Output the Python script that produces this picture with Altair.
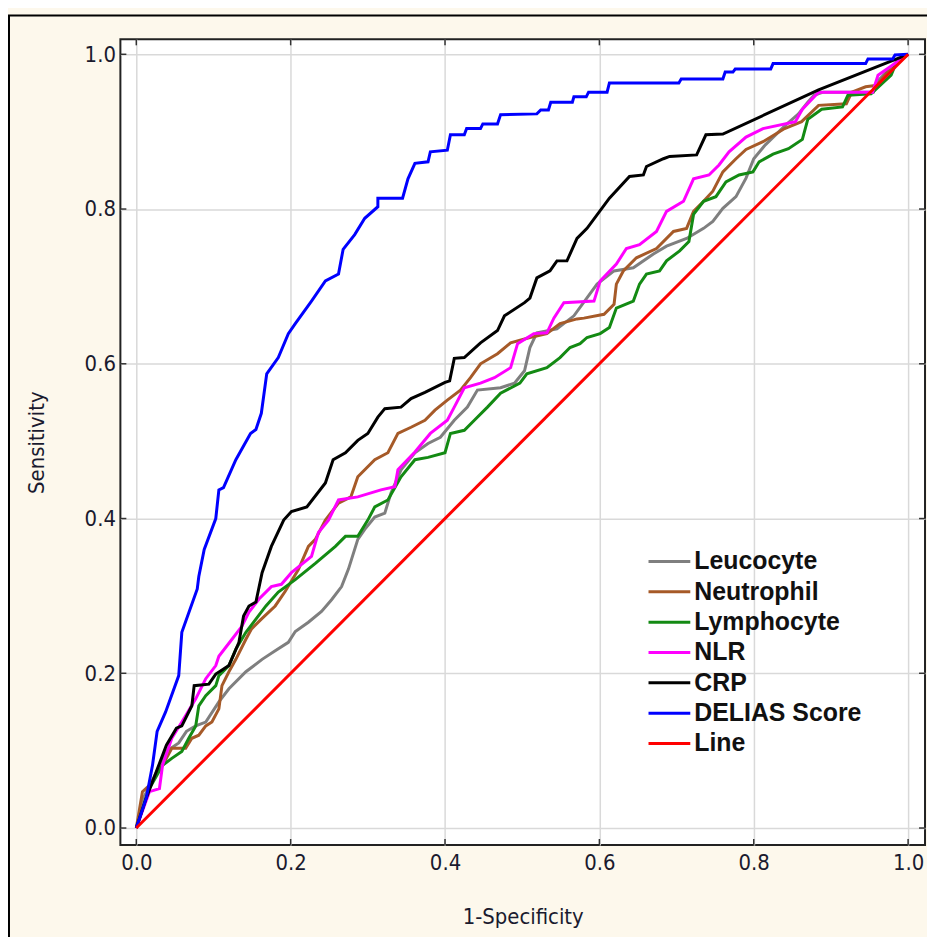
import altair as alt
import pandas as pd

series_names = ["Leucocyte", "Neutrophil", "Lymphocyte", "NLR", "CRP", "DELIAS Score", "Line"]
series_colors = ["#7f7f7f", "#a65a28", "#138a13", "#ff00ff", "#000000", "#0000ff", "#ff0000"]

tick_values = [0.0, 0.2, 0.4, 0.6, 0.8, 1.0]

leu_x = [0, 0.01, 0.025, 0.04, 0.055, 0.065, 0.077, 0.09, 0.107, 0.12,
         0.142, 0.163, 0.18, 0.197, 0.206, 0.223, 0.24, 0.253, 0.266, 0.275,
         0.287, 0.296, 0.309, 0.322, 0.33, 0.343, 0.361, 0.378, 0.394, 0.412,
         0.429, 0.442, 0.472, 0.49, 0.503, 0.51, 0.519, 0.545, 0.567, 0.597,
         0.619, 0.644, 0.67, 0.687, 0.713, 0.735, 0.747, 0.76, 0.777, 0.79,
         0.8, 0.815, 0.842, 0.858, 0.87, 0.878, 0.89, 0.955, 0.963, 0.985, 1]
leu_y = [0, 0.04, 0.07, 0.1, 0.11, 0.125, 0.132, 0.137, 0.163, 0.18,
         0.202, 0.218, 0.229, 0.24, 0.254, 0.266, 0.28, 0.295, 0.312, 0.335,
         0.373, 0.386, 0.402, 0.407, 0.433, 0.463, 0.485, 0.497, 0.505, 0.527,
         0.544, 0.566, 0.569, 0.575, 0.591, 0.621, 0.64, 0.645, 0.662, 0.703,
         0.72, 0.724, 0.742, 0.752, 0.762, 0.775, 0.784, 0.801, 0.816, 0.84,
         0.865, 0.883, 0.909, 0.923, 0.938, 0.947, 0.951, 0.951, 0.968, 0.99, 1]

neu_x = [0, 0.008, 0.017, 0.034, 0.046, 0.064, 0.072, 0.081, 0.09, 0.098,
         0.107, 0.111, 0.12, 0.129, 0.142, 0.149, 0.162, 0.18, 0.193, 0.21,
         0.223, 0.232, 0.245, 0.262, 0.278, 0.287, 0.309, 0.326, 0.339, 0.356,
         0.374, 0.387, 0.403, 0.42, 0.433, 0.446, 0.468, 0.485, 0.51, 0.532,
         0.549, 0.571, 0.58, 0.606, 0.619, 0.622, 0.631, 0.648, 0.674, 0.696,
         0.713, 0.722, 0.735, 0.747, 0.76, 0.777, 0.79, 0.812, 0.84, 0.862,
         0.884, 0.92, 0.927, 0.945, 0.96, 0.973, 1]
neu_y = [0, 0.047, 0.055, 0.081, 0.103, 0.103, 0.116, 0.12, 0.132, 0.137,
         0.154, 0.184, 0.202, 0.218, 0.244, 0.257, 0.27, 0.287, 0.306, 0.334,
         0.364, 0.373, 0.398, 0.42, 0.428, 0.454, 0.476, 0.485, 0.51, 0.518,
         0.527, 0.54, 0.553, 0.566, 0.582, 0.6, 0.613, 0.627, 0.634, 0.639,
         0.652, 0.658, 0.659, 0.664, 0.677, 0.703, 0.72, 0.737, 0.749, 0.771,
         0.775, 0.797, 0.81, 0.823, 0.848, 0.865, 0.877, 0.887, 0.904, 0.913,
         0.934, 0.936, 0.951, 0.958, 0.96, 0.977, 1]

lym_x = [0, 0.017, 0.034, 0.046, 0.059, 0.068, 0.077, 0.081, 0.09, 0.103,
         0.107, 0.12, 0.129, 0.142, 0.155, 0.168, 0.184, 0.206, 0.232, 0.258,
         0.271, 0.287, 0.3, 0.309, 0.326, 0.343, 0.361, 0.378, 0.4, 0.407,
         0.425, 0.438, 0.455, 0.472, 0.497, 0.506, 0.532, 0.549, 0.562, 0.575,
         0.584, 0.601, 0.613, 0.622, 0.644, 0.652, 0.661, 0.678, 0.687, 0.704,
         0.716, 0.722, 0.735, 0.751, 0.764, 0.781, 0.799, 0.807, 0.825, 0.845,
         0.863, 0.87, 0.888, 0.915, 0.922, 0.952, 0.978, 0.985, 1]
lym_y = [0, 0.051, 0.081, 0.09, 0.099, 0.116, 0.132, 0.158, 0.171, 0.184,
         0.197, 0.21, 0.231, 0.253, 0.27, 0.287, 0.305, 0.321, 0.342, 0.364,
         0.377, 0.377, 0.398, 0.415, 0.424, 0.454, 0.476, 0.479, 0.485, 0.51,
         0.514, 0.527, 0.544, 0.562, 0.575, 0.587, 0.595, 0.608, 0.621, 0.626,
         0.634, 0.639, 0.647, 0.672, 0.681, 0.703, 0.716, 0.72, 0.733, 0.746,
         0.758, 0.793, 0.81, 0.816, 0.835, 0.844, 0.848, 0.861, 0.871, 0.878,
         0.89, 0.916, 0.929, 0.932, 0.947, 0.949, 0.973, 0.99, 1]

nlr_x = [0, 0.017, 0.03, 0.034, 0.046, 0.059, 0.077, 0.09, 0.103, 0.107,
         0.124, 0.137, 0.146, 0.159, 0.175, 0.188, 0.201, 0.227, 0.236, 0.249,
         0.262, 0.287, 0.317, 0.335, 0.339, 0.361, 0.381, 0.403, 0.412, 0.425,
         0.446, 0.464, 0.485, 0.494, 0.515, 0.532, 0.541, 0.554, 0.593, 0.601,
         0.622, 0.635, 0.652, 0.674, 0.687, 0.709, 0.722, 0.742, 0.755, 0.768,
         0.79, 0.812, 0.854, 0.863, 0.884, 0.954, 0.961, 1]
nlr_y = [0, 0.047, 0.051, 0.081, 0.116, 0.137, 0.167, 0.193, 0.21, 0.222,
         0.244, 0.261, 0.279, 0.296, 0.312, 0.315, 0.33, 0.351, 0.382, 0.398,
         0.424, 0.428, 0.437, 0.441, 0.463, 0.486, 0.51, 0.527, 0.544, 0.569,
         0.575, 0.582, 0.595, 0.626, 0.639, 0.64, 0.659, 0.679, 0.681, 0.707,
         0.729, 0.749, 0.754, 0.771, 0.797, 0.81, 0.839, 0.844, 0.857, 0.874,
         0.893, 0.904, 0.913, 0.929, 0.951, 0.951, 0.973, 1]

crp_x = [0, 0.013, 0.026, 0.039, 0.052, 0.059, 0.072, 0.075, 0.094, 0.103,
         0.12, 0.133, 0.139, 0.146, 0.155, 0.163, 0.175, 0.191, 0.201, 0.221,
         0.245, 0.255, 0.271, 0.287, 0.3, 0.313, 0.322, 0.343, 0.356, 0.374,
         0.4, 0.406, 0.412, 0.425, 0.446, 0.468, 0.477, 0.503, 0.51, 0.519,
         0.536, 0.545, 0.558, 0.571, 0.584, 0.613, 0.639, 0.657, 0.661, 0.683,
         0.691, 0.726, 0.738, 0.76, 0.884, 1]
crp_y = [0, 0.039, 0.073, 0.107, 0.129, 0.132, 0.158, 0.184, 0.186, 0.199,
         0.21, 0.24, 0.274, 0.287, 0.292, 0.33, 0.364, 0.398, 0.409, 0.415,
         0.446, 0.476, 0.485, 0.501, 0.51, 0.531, 0.542, 0.544, 0.555, 0.563,
         0.576, 0.578, 0.607, 0.608, 0.627, 0.643, 0.662, 0.679, 0.685, 0.711,
         0.72, 0.733, 0.733, 0.762, 0.775, 0.814, 0.842, 0.844, 0.855, 0.865,
         0.868, 0.87, 0.896, 0.897, 0.954, 1]

delias_x = [0, 0.013, 0.021, 0.027, 0.038, 0.055, 0.059, 0.079, 0.081, 0.088,
            0.103, 0.107, 0.113, 0.129, 0.148, 0.155, 0.162, 0.169, 0.184, 0.197,
            0.206, 0.227, 0.245, 0.262, 0.268, 0.283, 0.296, 0.313, 0.313, 0.345,
            0.352, 0.361, 0.378, 0.381, 0.403, 0.407, 0.425, 0.428, 0.446, 0.449,
            0.468, 0.472, 0.519, 0.524, 0.534, 0.537, 0.565, 0.567, 0.583, 0.586,
            0.61, 0.613, 0.703, 0.706, 0.76, 0.763, 0.773, 0.776, 0.822, 0.825,
            0.945, 0.948, 0.98, 0.983, 1]
delias_y = [0, 0.039, 0.081, 0.125, 0.15, 0.197, 0.253, 0.309, 0.325, 0.36,
            0.4, 0.437, 0.44, 0.476, 0.51, 0.515, 0.536, 0.587, 0.608, 0.639,
            0.652, 0.681, 0.707, 0.716, 0.748, 0.767, 0.788, 0.803, 0.814, 0.814,
            0.839, 0.859, 0.861, 0.874, 0.876, 0.896, 0.896, 0.904, 0.904, 0.91,
            0.91, 0.922, 0.923, 0.928, 0.928, 0.938, 0.938, 0.945, 0.945, 0.951,
            0.951, 0.963, 0.963, 0.968, 0.968, 0.977, 0.977, 0.981, 0.981, 0.988,
            0.988, 0.994, 0.994, 0.999, 1]

line_x = [0, 1]
line_y = [0, 1]

all_x = [leu_x, neu_x, lym_x, nlr_x, crp_x, delias_x, line_x]
all_y = [leu_y, neu_y, lym_y, nlr_y, crp_y, delias_y, line_y]

rows = []
for name, xs, ys in zip(series_names, all_x, all_y):
    for i, (xv, yv) in enumerate(zip(xs, ys)):
        rows.append({"series": name, "i": i, "x": xv, "y": yv})
df = pd.DataFrame(rows)

W, H = 809, 810
FONT = "Liberation Sans Narrow, DejaVu Sans Condensed, Arial Narrow, sans-serif"
BFONT = "Liberation Sans, Arial, sans-serif"

xdom = [-0.0206, 1.0219]
ydom = [-0.0219, 1.0193]
cscale = alt.Scale(domain=series_names, range=series_colors)

lines = alt.Chart(df).mark_line(strokeWidth=3).encode(
    x=alt.X("x:Q", scale=alt.Scale(domain=xdom, nice=False, zero=False),
            axis=alt.Axis(values=tick_values, format=".1f", title="1-Specificity",
                          ticks=False, domain=False, labelPadding=8, titlePadding=33)),
    y=alt.Y("y:Q", scale=alt.Scale(domain=ydom, nice=False, zero=False),
            axis=alt.Axis(values=tick_values, format=".1f", title="Sensitivity",
                          ticks=False, domain=False, labelPadding=5, titlePadding=36)),
    color=alt.Color("series:N", scale=cscale, legend=None),
    detail="series:N",
    order=alt.Order("i:Q"),
)

ticks_df = pd.DataFrame({"v": tick_values})
tick_col = "#333333"


def xs_():
    return alt.Scale(domain=xdom, nice=False, zero=False)


def ys_():
    return alt.Scale(domain=ydom, nice=False, zero=False)


bottom_ticks = alt.Chart(ticks_df).mark_rule(color=tick_col, strokeWidth=1.5).encode(
    x=alt.X("v:Q", scale=xs_(), axis=None), y=alt.value(H - 6), y2=alt.value(H))
top_ticks = alt.Chart(ticks_df).mark_rule(color=tick_col, strokeWidth=1.5).encode(
    x=alt.X("v:Q", scale=xs_(), axis=None), y=alt.value(0), y2=alt.value(6))
left_ticks = alt.Chart(ticks_df).mark_rule(color=tick_col, strokeWidth=1.5).encode(
    y=alt.Y("v:Q", scale=ys_(), axis=None), x=alt.value(0), x2=alt.value(6))
right_ticks = alt.Chart(ticks_df).mark_rule(color=tick_col, strokeWidth=1.5).encode(
    y=alt.Y("v:Q", scale=ys_(), axis=None), x=alt.value(W - 6), x2=alt.value(W))

legend_df = pd.DataFrame({"name": series_names, "row": list(range(len(series_names)))})
leg_base = alt.Chart(legend_df).transform_calculate(py="525 + 30.5 * datum.row")
leg_sym = leg_base.mark_rule(strokeWidth=3).encode(
    x=alt.value(531), x2=alt.value(573),
    y=alt.Y("py:Q", scale=None, axis=None),
    color=alt.Color("name:N", scale=cscale, legend=None))
leg_txt = leg_base.mark_text(align="left", baseline="middle", fontSize=25,
                             fontWeight="bold", font=BFONT, color="#111111").encode(
    x=alt.value(577),
    y=alt.Y("py:Q", scale=None, axis=None),
    text="name:N")

border_df = pd.DataFrame({"k": [0]})
border_left = alt.Chart(border_df).mark_rule(color="#000000", strokeWidth=2).encode(
    x=alt.value(-112), y=alt.value(-24), y2=alt.value(H + 200))
border_top = alt.Chart(border_df).mark_rule(color="#000000", strokeWidth=2).encode(
    x=alt.value(-113), x2=alt.value(W + 100), y=alt.value(-24))

chart = alt.layer(
    lines, bottom_ticks, top_ticks, left_ticks, right_ticks,
    leg_sym, leg_txt, border_left, border_top
).resolve_scale(
    x="independent", y="independent"
).properties(
    width=W, height=H,
    autosize=alt.AutoSizeParams(type="none"),
    padding={"left": 113, "top": 29, "right": 2, "bottom": 90},
    background="#fdf8ec",
).configure_view(
    fill="#ffffff", stroke="#222222", strokeWidth=2
).configure_axis(
    gridColor="#d9d9d9", gridWidth=1.5,
    labelFont=FONT, labelFontSize=22, labelColor="#1a1a2e",
    titleFont=FONT, titleFontSize=22, titleColor="#1a1a2e", titleFontWeight="normal",
)

chart.save("out.html", embed_options={"renderer": "svg", "actions": False})
